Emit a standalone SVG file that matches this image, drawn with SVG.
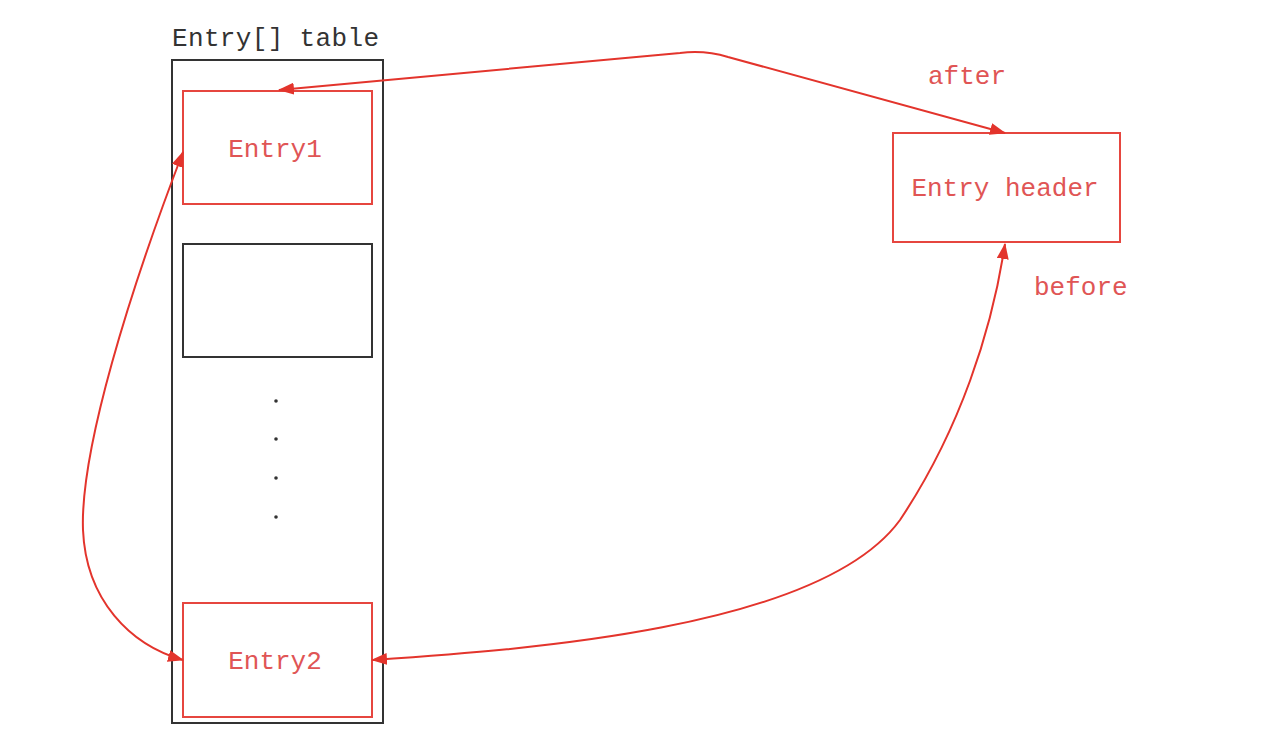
<svg xmlns="http://www.w3.org/2000/svg" width="1280" height="748" viewBox="0 0 1280 748">
<style>
.red{fill:none;stroke:#e6463f;stroke-width:2}
.blk{fill:none;stroke:#333;stroke-width:2}
.conn{fill:none;stroke:#e3342c;stroke-width:2}
.t{font-family:"Liberation Mono","DejaVu Sans Mono",monospace;font-size:26px}
.rt{fill:#e05555}
</style>
<defs>
<marker id="ah" viewBox="0 0 16 12" refX="15" refY="6" markerWidth="16" markerHeight="12" markerUnits="userSpaceOnUse" orient="auto-start-reverse">
<path d="M0,0 L16,6 L0,12 Z" fill="#e3342c"/>
</marker>
</defs>
<rect width="1280" height="748" fill="#fff"/>
<g id="table">
<text class="t" x="172" y="46" fill="#333" textLength="207">Entry[] table</text>
<rect class="blk" x="172" y="60" width="211" height="663"/>
</g>
<g id="entry1">
<rect class="red" x="183" y="91" width="189" height="113"/>
<text class="t rt" x="275" y="157" text-anchor="middle">Entry1</text>
</g>
<g id="empty">
<rect class="blk" x="183" y="244" width="189" height="113"/>
</g>
<g id="dots" fill="#333">
<circle cx="276" cy="401" r="1.8"/>
<circle cx="276" cy="439" r="1.8"/>
<circle cx="276" cy="478" r="1.8"/>
<circle cx="276" cy="517" r="1.8"/>
</g>
<g id="entry2">
<rect class="red" x="183" y="603" width="189" height="114"/>
<text class="t rt" x="275" y="669" text-anchor="middle">Entry2</text>
</g>
<g id="header">
<rect class="red" x="893" y="133" width="227" height="109"/>
<text class="t rt" x="1005" y="196" text-anchor="middle">Entry header</text>
</g>
<g id="labels">
<text class="t rt" x="928" y="84">after</text>
<text class="t rt" x="1034" y="295">before</text>
</g>
<g id="connectors">
<path class="conn" marker-start="url(#ah)" marker-end="url(#ah)" d="M279,90 L680,53 Q705,50 728,57 L1005,133"/>
<path class="conn" marker-start="url(#ah)" marker-end="url(#ah)" d="M1005,244 C992,330 960,430 900,520 C820,630 520,650 372,660"/>
<path class="conn" marker-start="url(#ah)" marker-end="url(#ah)" d="M183,152 C130,290 80,450 83,530 C86,600 130,645 183,660"/>
</g>
</svg>
